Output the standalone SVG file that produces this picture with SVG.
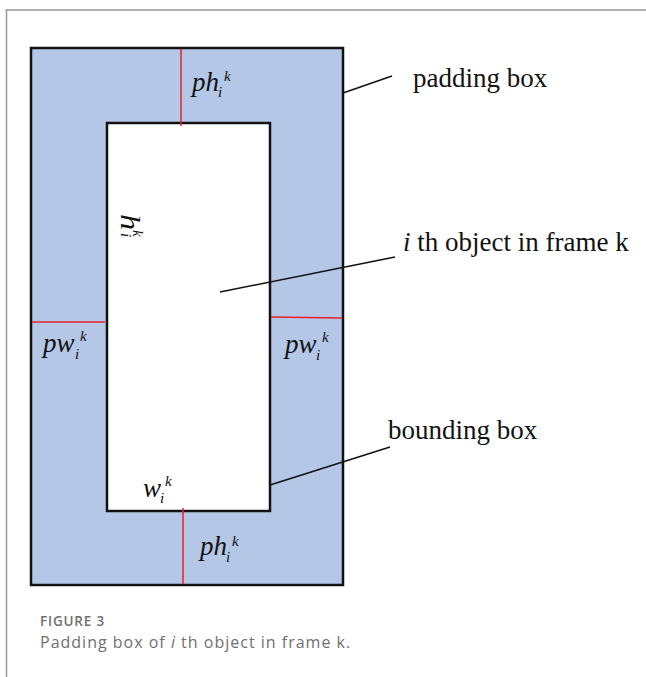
<svg xmlns="http://www.w3.org/2000/svg" width="646" height="677" viewBox="0 0 646 677">
<style>
.m{font-family:"Liberation Serif","DejaVu Serif",serif;font-style:italic;font-size:27px;fill:#111}
.s{font-family:"Liberation Serif","DejaVu Serif",serif;font-style:italic;font-size:15px;fill:#111}
.lbl{font-family:"Liberation Serif",serif;font-size:27px;fill:#111}
.red{stroke:#e8202a;stroke-width:1.5}
.lead{stroke:#111;stroke-width:1.5}
</style>
<rect width="646" height="677" fill="#fff"/>
<path d="M6.5 677V10H646" fill="none" stroke="#999" stroke-width="1.5"/>
<g id="padding-box"><rect x="31" y="48" width="312" height="537" fill="#b4c7e7" stroke="#111" stroke-width="2.5"/></g>
<g id="bounding-box"><rect x="107" y="123" width="163" height="388" fill="#fff" stroke="#111" stroke-width="2.5"/></g>
<g id="connectors">
<line class="red" x1="181" y1="49" x2="181" y2="126"/>
<line class="red" x1="32" y1="322" x2="105" y2="322"/>
<line class="red" x1="271" y1="317" x2="342" y2="318"/>
<line class="red" x1="183" y1="508" x2="183" y2="584"/>
<line class="lead" x1="343" y1="93" x2="392" y2="76"/>
<line class="lead" x1="220" y1="292" x2="395" y2="257"/>
<line class="lead" x1="270" y1="485" x2="390" y2="447"/>
</g>
<g id="label-ph-top">
<text class="m" x="192" y="91">ph</text><text class="s" x="224" y="81">k</text><text class="s" x="218" y="97">i</text>
</g>
<g id="label-pw-left">
<text class="m" x="43" y="352">pw</text><text class="s" x="80" y="341">k</text><text class="s" x="75" y="359">i</text>
</g>
<g id="label-pw-right">
<text class="m" x="285" y="353">pw</text><text class="s" x="322" y="342">k</text><text class="s" x="316" y="360">i</text>
</g>
<g id="label-w">
<text class="m" x="143" y="497">w</text><text class="s" x="165" y="486">k</text><text class="s" x="160" y="503">i</text>
</g>
<g id="label-ph-bottom">
<text class="m" x="200" y="555">ph</text><text class="s" x="232" y="546">k</text><text class="s" x="226" y="562">i</text>
</g>
<g id="label-h">
<text class="m" font-size="18" transform="translate(121 214) rotate(90) scale(1.2 1)">h</text>
<text class="s" font-size="12" transform="translate(133 230) rotate(90)">k</text>
<text class="s" font-size="12" transform="translate(121 233) rotate(90)">i</text>
</g>
<g id="labels">
<text class="lbl" x="413" y="87">padding box</text>
<text class="lbl" x="403" y="251"><tspan font-style="italic">i</tspan> th object in frame k</text>
<text class="lbl" x="388" y="439">bounding box</text>
</g>
<g id="caption" font-family="'Open Sans','Noto Sans',sans-serif" fill="#707070">
<text x="40" y="626" font-size="13.5" font-weight="600" letter-spacing="0.8">FIGURE 3</text>
<text x="40" y="648" font-size="16" letter-spacing="1">Padding box of <tspan font-style="italic">i</tspan> th object in frame k.</text>
</g>
</svg>
